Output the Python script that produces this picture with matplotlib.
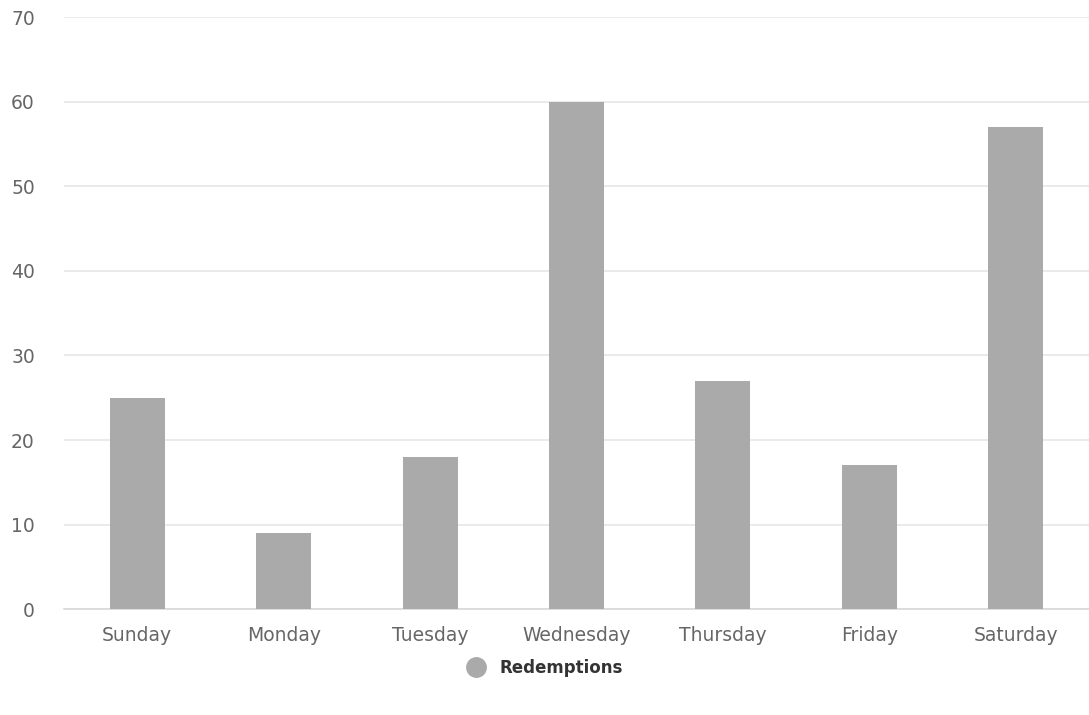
import matplotlib.pyplot as plt
from matplotlib.lines import Line2D

# Redemptions per day of week
days = ["Sunday", "Monday", "Tuesday", "Wednesday", "Thursday", "Friday", "Saturday"]
redemptions = [25, 9, 18, 60, 27, 17, 57]
y_ticks = [0, 10, 20, 30, 40, 50, 60, 70]

plt.rcParams['font.family'] = ['DejaVu Sans']

fig = plt.figure(figsize=(10.89, 7.15), dpi=100)
ax = fig.add_axes([0.0588, 0.148, 0.9412, 0.828])

x = range(len(days))
ax.bar(x, redemptions, width=0.375, color="#aaaaaa", zorder=3)

ax.set_xlim(-0.5, len(days) - 0.5)
ax.set_ylim(0, 70)
ax.set_yticks(y_ticks)
ax.set_xticks(list(x))
ax.set_xticklabels(days)

ax.grid(axis="y", color="#e6e6e6", linewidth=1.2, zorder=0)
for s in ["top", "right", "left"]:
    ax.spines[s].set_visible(False)
ax.spines["bottom"].set_color("#d8d8d8")
ax.spines["bottom"].set_linewidth(1.2)
ax.tick_params(axis="both", length=0, labelsize=13.5, colors="#666666")
ax.tick_params(axis="y", pad=21)
ax.tick_params(axis="x", pad=12)

# legend below the plot
handle = Line2D([], [], marker="o", linestyle="none", markersize=14,
                markerfacecolor="#aaaaaa", markeredgecolor="#aaaaaa")
fig.legend([handle], ["Redemptions"], loc="center", bbox_to_anchor=(0.497, 0.066),
           frameon=False, prop={"weight": "bold", "size": 12}, handletextpad=0.4,
           labelcolor="#333333")

fig.savefig("out.png", dpi=100)
